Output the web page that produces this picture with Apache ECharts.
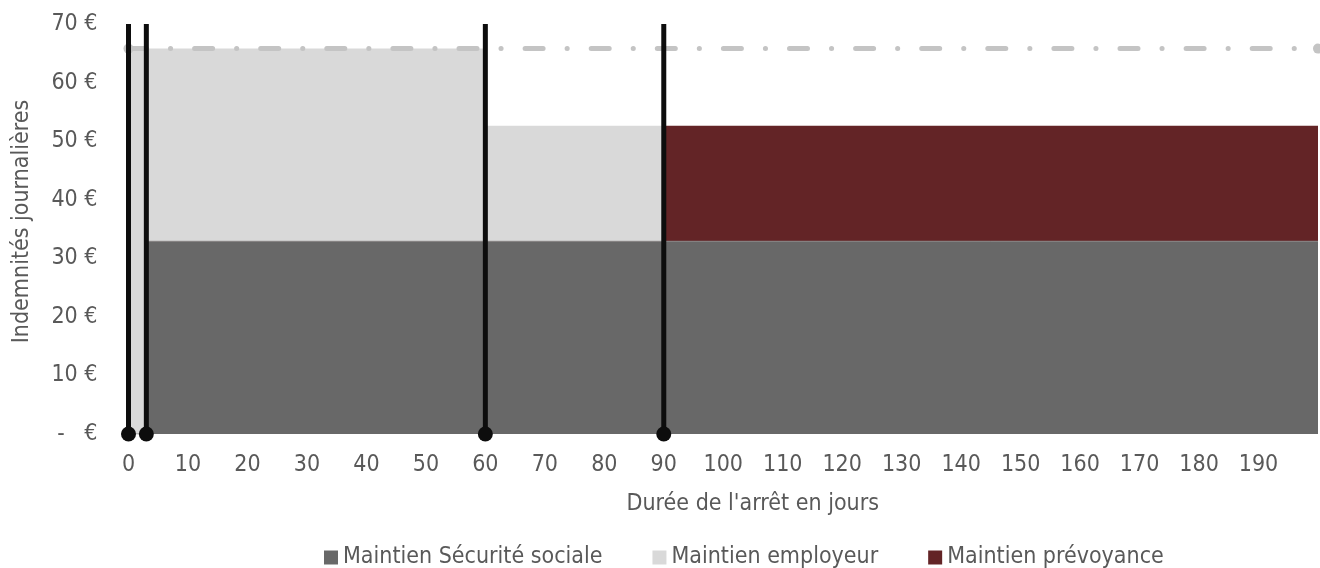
<!DOCTYPE html>
<html>
<head>
<meta charset="utf-8">
<script src="https://cdn.jsdelivr.net/npm/echarts@6/dist/echarts.min.js"></script>
<style>
  html, body { margin: 0; padding: 0; background: #fff; }
  #chart { width: 1320px; height: 568px; }
</style>
</head>
<body>
<div id="chart"></div>
<script>
// Breakpoints of the sick-leave period (days) and the daily amount paid by each party
const days = [0, 3, 60, 90, 200];
const securiteSociale = [0, 32.9, 32.9, 32.9, 32.9];
const employeur = [65.8, 32.9, 19.74, 0, 0];
const prevoyance = [0, 0, 0, 19.74, 19.74];
const salaireJournalier = 65.8;
const arretMarks = [0, 3, 60, 90];
const seriesNames = ['Maintien Sécurité sociale', 'Maintien employeur', 'Maintien prévoyance'];
const xTickLabels = [0, 10, 20, 30, 40, 50, 60, 70, 80, 90, 100, 110, 120, 130, 140, 150, 160, 170, 180, 190];
const yTickLabels = [0, 10, 20, 30, 40, 50, 60, 70];

const FONT = "'DejaVu Sans Condensed', 'DejaVu Sans', sans-serif";
const FS = 23;
const TEXT = '#595959';
const COLORS = { ss: '#686868', emp: '#d9d9d9', prev: '#632426', salaire: '#c4c4c4', mark: '#0d0d0d' };

// Cumulative tops so each band sits on the Sécurité sociale band
const toPairs = (vals) => days.map((d, i) => [d, vals[i]]);
const empTop = securiteSociale.map((v, i) => +(v + employeur[i]).toFixed(2));
const prevTop = securiteSociale.map((v, i) => +(v + prevoyance[i]).toFixed(2));

const series = [
  {
    name: seriesNames[1], type: 'line', step: 'end', data: toPairs(empTop),
    symbol: 'none', lineStyle: { width: 0 }, itemStyle: { color: COLORS.emp },
    areaStyle: { color: COLORS.emp, opacity: 1 }, z: 1, silent: true
  },
  {
    name: seriesNames[2], type: 'line', step: 'end', data: toPairs(prevTop),
    symbol: 'none', lineStyle: { width: 0 }, itemStyle: { color: COLORS.prev },
    areaStyle: { color: COLORS.prev, opacity: 1 }, z: 2, silent: true
  },
  {
    name: seriesNames[0], type: 'line', step: 'end', data: toPairs(securiteSociale),
    symbol: 'none', lineStyle: { width: 1, color: '#8c8c8c' }, itemStyle: { color: COLORS.ss },
    areaStyle: { color: COLORS.ss, opacity: 1 }, z: 3, silent: true
  },
  {
    name: 'Salaire', type: 'line',
    data: [[days[0], salaireJournalier], [days[days.length - 1], salaireJournalier]],
    symbol: 'circle', symbolSize: 10, itemStyle: { color: COLORS.salaire },
    lineStyle: { color: COLORS.salaire, width: 5, type: [18, 24, 0.1, 24], cap: 'round' },
    z: 4, silent: true
  }
];

// Vertical markers at each change of payer
arretMarks.forEach((d) => {
  series.push({
    name: 'Jour ' + d, type: 'line',
    data: [
      { value: [d, 0], symbol: 'circle', symbolSize: 15 },
      { value: [d, 70], symbol: 'none' }
    ],
    itemStyle: { color: COLORS.mark },
    lineStyle: { color: COLORS.mark, width: 5 },
    z: 5, silent: true
  });
});

const chart = echarts.init(document.getElementById('chart'), null, { renderer: 'canvas' });
chart.setOption({
  animation: false,
  backgroundColor: '#ffffff',
  textStyle: { fontFamily: FONT },
  grid: { left: 128.5, right: 2, top: 24, bottom: 134, containLabel: false, outerBoundsMode: 'none' },
  xAxis: {
    type: 'value', min: 0, max: 200, interval: 10,
    name: "Durée de l'arrêt en jours", nameLocation: 'middle', nameGap: 59,
    nameTextStyle: { color: TEXT, fontSize: FS, fontFamily: FONT, padding: [0, 0, 0, 59] },
    axisLine: { show: false }, axisTick: { show: false }, splitLine: { show: false },
    axisLabel: {
      color: TEXT, fontSize: FS, fontFamily: FONT, margin: 20,
      formatter: (v) => (xTickLabels.indexOf(v) >= 0 ? String(v) : '')
    }
  },
  yAxis: {
    type: 'value', min: 0, max: 70, interval: 10,
    name: 'Indemnités journalières', nameLocation: 'middle', nameGap: 95, nameRotate: 90,
    nameTextStyle: { color: TEXT, fontSize: FS, fontFamily: FONT, padding: [0, 0, 0, 15] },
    axisLine: { show: false }, axisTick: { show: false }, splitLine: { show: false },
    axisLabel: {
      color: TEXT, fontSize: FS, fontFamily: FONT, margin: 31,
      formatter: (v) => (yTickLabels.indexOf(v) < 0 ? '' : (v === 0 ? '-   €' : v + ' €'))
    }
  },
  legend: {
    data: seriesNames, left: 319, top: 541, icon: 'rect',
    itemWidth: 14, itemHeight: 14, itemGap: 50, selectedMode: false,
    textStyle: { color: TEXT, fontSize: FS, fontFamily: FONT }
  },
  series: series
});
</script>
</body>
</html>
